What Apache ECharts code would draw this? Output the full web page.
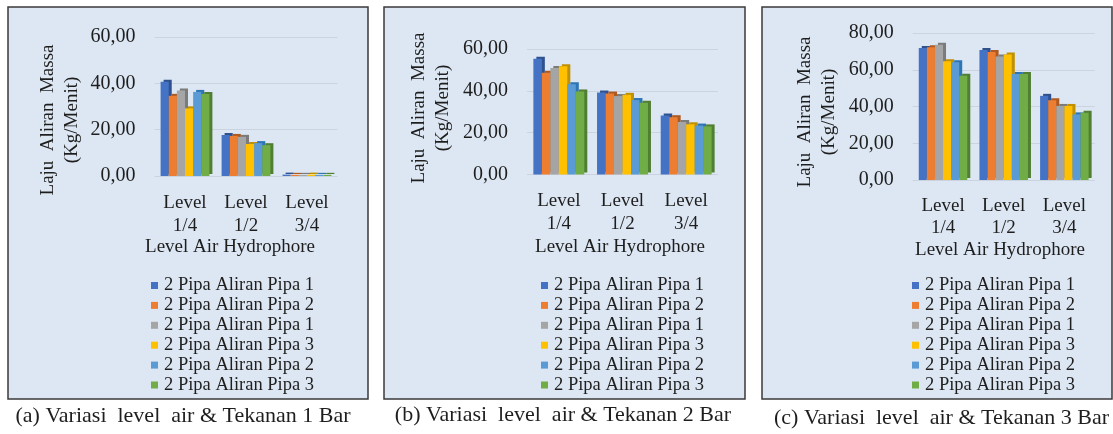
<!DOCTYPE html>
<html>
<head>
<meta charset="utf-8">
<script src="https://cdn.jsdelivr.net/npm/echarts@6/dist/echarts.min.js"></script>
<style>
html,body{margin:0;padding:0;background:#ffffff;}
#chart{width:1113px;height:434px;}
</style>
</head>
<body>
<div id="chart"></div>
<script>
// ---- data ----
const categories = ['Level\n1/4', 'Level\n1/2', 'Level\n3/4'];
const seriesLabels = ['2 Pipa Aliran Pipa 1', '2 Pipa Aliran Pipa 2', '2 Pipa Aliran Pipa 1', '2 Pipa Aliran Pipa 3', '2 Pipa Aliran Pipa 2', '2 Pipa Aliran Pipa 3'];
const xTitle = 'Level Air Hydrophore';
const yTitle = 'Laju  Aliran  Massa\n(Kg/Menit)';
const captions = ['(a) Variasi  level  air & Tekanan 1 Bar', '(b) Variasi  level  air & Tekanan 2 Bar', '(c) Variasi  level  air & Tekanan 3 Bar'];
const yMax = [60, 60, 80];

// (a) Tekanan 1 Bar
const a1 = [40.7, 17.7, 0.6];
const a2 = [34.6, 17.3, 0.5];
const a3 = [36.9, 16.9, 0.5];
const a4 = [29.2, 13.8, 0.6];
const a5 = [36.3, 14.2, 0.5];
const a6 = [35.4, 13.3, 0.5];
// (b) Tekanan 2 Bar
const b1 = [55.3, 39.2, 28.2];
const b2 = [48.6, 38.7, 27.4];
const b3 = [50.9, 37.5, 25.1];
const b4 = [51.7, 38.1, 24.0];
const b5 = [43.1, 35.6, 23.4];
const b6 = [39.7, 34.3, 23.0];
// (c) Tekanan 3 Bar
const c1 = [71.9, 70.8, 45.8];
const c2 = [72.3, 69.6, 43.4];
const c3 = [73.6, 67.2, 40.3];
const c4 = [64.6, 68.3, 40.3];
const c5 = [64.1, 57.7, 35.7];
const c6 = [56.7, 57.7, 36.6];

// ---- styling / layout ----
const panelData = [[a1, a2, a3, a4, a5, a6], [b1, b2, b3, b4, b5, b6], [c1, c2, c3, c4, c5, c6]];
const colors = ['#4472C4', '#ED7D31', '#A5A5A5', '#FFC000', '#5B9BD5', '#70AD47'];
const sideColors = ['#2F528F', '#AE5A21', '#7B7B7B', '#BF9000', '#2E75B6', '#507E32'];
// unique legend keys (trailing spaces keep duplicates distinct)
const seriesKeys = seriesLabels.map((s, i) => s + (seriesLabels.indexOf(s) < i ? ' ' : ''));

const FONT = '"Liberation Serif", "Times New Roman", Times, "DejaVu Serif", serif';
const TXT = '#1e1e1e';
const panels = [
  {box: [8, 7, 360, 392], grid: {left: 154.5, top: 37, width: 183, height: 139}, lm: 16, lh: 23, yT: [60, 120], xT: [230, 247], leg: 146, cap: [183, 416]},
  {box: [384, 7, 361, 392], grid: {left: 527, top: 49, width: 191, height: 125.5}, lm: 15, lh: 23, yT: [431, 108], xT: [620, 247], leg: 536, cap: [563, 415]},
  {box: [762, 7, 350, 392], grid: {left: 912.7, top: 33, width: 182, height: 147}, lm: 15, lh: 22, yT: [817.5, 112], xT: [1000, 250], leg: 907, cap: [941.5, 418]}
];

const option = {
  animation: false,
  backgroundColor: '#ffffff',
  textStyle: {fontFamily: FONT},
  grid: [], xAxis: [], yAxis: [], series: [], legend: [], graphic: []
};

panels.forEach((p, k) => {
  option.graphic.push({
    type: 'rect', z: -100, silent: true,
    shape: {x: p.box[0], y: p.box[1], width: p.box[2], height: p.box[3]},
    style: {fill: '#dde7f3', stroke: '#3a3a3a', lineWidth: 1.5}
  });
  option.graphic.push({
    type: 'text', x: p.yT[0], y: p.yT[1], rotation: Math.PI / 2,
    style: {text: yTitle, fontFamily: FONT, fontSize: 19, fill: TXT, align: 'center', verticalAlign: 'middle', lineHeight: 24}
  });
  option.graphic.push({
    type: 'text', x: p.xT[0], y: p.xT[1],
    style: {text: xTitle, fontFamily: FONT, fontSize: 19, fill: TXT, align: 'center', verticalAlign: 'middle'}
  });
  option.graphic.push({
    type: 'text', x: p.cap[0], y: p.cap[1],
    style: {text: captions[k], fontFamily: FONT, fontSize: 22, fill: TXT, align: 'center', verticalAlign: 'middle'}
  });
  option.grid.push(Object.assign({containLabel: false}, p.grid));
  option.xAxis.push({
    type: 'category', gridIndex: k, data: categories,
    axisLine: {show: false}, axisTick: {show: false},
    axisLabel: {fontFamily: FONT, fontSize: 19, color: TXT, lineHeight: p.lh, margin: p.lm}
  });
  option.yAxis.push({
    type: 'value', gridIndex: k, min: 0, max: yMax[k], interval: 20,
    axisLine: {show: false}, axisTick: {show: false},
    splitLine: {lineStyle: {color: '#cbd3de', width: 1}},
    axisLabel: {fontFamily: FONT, fontSize: 20, color: TXT, margin: 19,
      formatter: v => v.toFixed(2).replace('.', ',')}
  });
  panelData[k].forEach((vals, i) => {
    option.series.push({
      type: 'bar', name: seriesKeys[i], xAxisIndex: k, yAxisIndex: k, data: vals,
      barGap: '0%', barCategoryGap: '20%',
      itemStyle: {color: colors[i], shadowColor: sideColors[i], shadowBlur: 0, shadowOffsetX: 3, shadowOffsetY: -2}
    });
  });
  option.legend.push({
    orient: 'vertical', left: p.leg, top: 271,
    data: seriesKeys, icon: 'rect', itemWidth: 7, itemHeight: 7, itemGap: 0.9,
    itemStyle: {shadowBlur: 0, shadowOffsetX: 0, shadowOffsetY: 0, shadowColor: 'rgba(0,0,0,0)'},
    textStyle: {fontFamily: FONT, fontSize: 18.5, color: TXT, lineHeight: 18, padding: [0, 0, 0, 1]},
    selectedMode: false
  });
});

const chart = echarts.init(document.getElementById('chart'), null, {renderer: 'canvas'});
chart.setOption(option);
</script>
</body>
</html>
